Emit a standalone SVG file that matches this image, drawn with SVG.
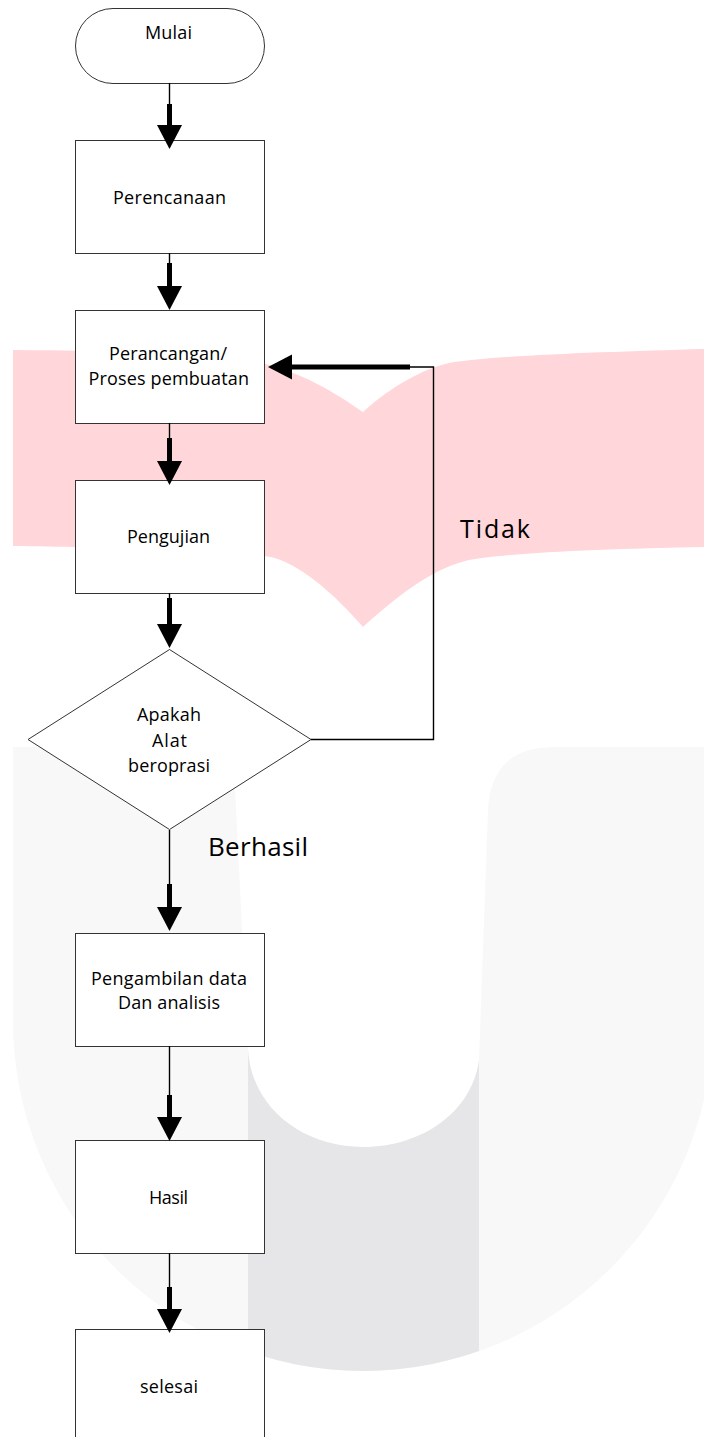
<svg xmlns="http://www.w3.org/2000/svg" width="704" height="1437" viewBox="0 0 704 1437">
<style>
.box{fill:#fff;stroke:#333;stroke-width:1}
.t{font-family:"Open Sans","Noto Sans","Liberation Sans",sans-serif;font-size:18px;fill:#000}
.lbl{font-family:"Open Sans","Noto Sans","Liberation Sans",sans-serif;font-size:25px;fill:#000}
.thin{fill:none;stroke:#000;stroke-width:1.4}
.thick{fill:none;stroke:#000;stroke-width:5;stroke-linecap:butt}
</style>
<defs>
<marker id="head" markerUnits="userSpaceOnUse" markerWidth="26" markerHeight="26" refX="0" refY="12.5" orient="auto" viewBox="0 0 26 25">
<path d="M0,0 L24,12.5 L0,25 Z" fill="#000"/>
</marker>
<clipPath id="uclip"><path d="M13,747 L13,1021 A350,350 0 0 0 713,1021 L713,747 Z"/></clipPath>
</defs>
<rect width="704" height="1437" fill="#fff"/>
<g id="watermark">
<path d="M13,350 C120,351 230,352 280,368 C320,382 345,400 363,412 C385,392 415,372 445,364 C480,356 600,352 704,349 L704,547 C600,549 500,553 465,561 C430,570 395,598 363,627 C335,595 305,568 275,558 C240,549 120,548 13,546 Z" fill="#ffd6da"/>
<path d="M13,747 L13,1021 A350,350 0 0 0 713,1021 L713,747 Z" fill="#f8f8f8"/>
<rect x="248" y="900" width="231" height="500" fill="#e6e6e8" clip-path="url(#uclip)"/>
<path d="M233,747 L248,1050 C252,1110 305,1147 363,1147 C422,1147 472,1112 479,1060 L488,810 C490,770 510,747 555,747 Z" fill="#fff"/>
</g>
<g id="n-mulai"><rect class="box" x="75.5" y="8.5" width="189" height="75" rx="37.5"/><text class="t" x="145" y="39" textLength="47" lengthAdjust="spacing">Mulai</text></g>
<g id="n-perencanaan"><rect class="box" x="75.5" y="140.5" width="189" height="113"/><text class="t" x="113" y="204" textLength="113" lengthAdjust="spacing">Perencanaan</text></g>
<g id="n-perancangan"><rect class="box" x="75.5" y="310.5" width="189" height="113"/><text class="t" x="109" y="360" textLength="118" lengthAdjust="spacing">Perancangan/</text><text class="t" x="88.5" y="385" textLength="160.5" lengthAdjust="spacing">Proses pembuatan</text></g>
<g id="n-pengujian"><rect class="box" x="75.5" y="480.5" width="189" height="113"/><text class="t" x="127" y="542.5" textLength="83" lengthAdjust="spacing">Pengujian</text></g>
<g id="n-decision"><polygon class="box" points="169.5,649.5 311,739.5 169.5,829.5 28,739.5"/><text class="t" x="137" y="721" textLength="64" lengthAdjust="spacing">Apakah</text><text class="t" x="152" y="746.5" textLength="35" lengthAdjust="spacing">Alat</text><text class="t" x="128" y="772" textLength="82" lengthAdjust="spacing">beroprasi</text></g>
<g id="n-pengambilan"><rect class="box" x="75.5" y="933.5" width="189" height="113"/><text class="t" x="91" y="984.5" textLength="156" lengthAdjust="spacing">Pengambilan data</text><text class="t" x="118" y="1009" textLength="102" lengthAdjust="spacing">Dan analisis</text></g>
<g id="n-hasil"><rect class="box" x="75.5" y="1140.5" width="189" height="113"/><text class="t" x="149" y="1204" textLength="39" lengthAdjust="spacing">Hasil</text></g>
<g id="n-selesai"><rect class="box" x="75.5" y="1329.5" width="189" height="113"/><text class="t" x="140" y="1393" textLength="58" lengthAdjust="spacing">selesai</text></g>
<g id="connectors">
<path class="thin" d="M169.5,83 V104"/><path class="thick" d="M169.5,104 V125" marker-end="url(#head)"/>
<path class="thin" d="M169.5,253 V264"/><path class="thick" d="M169.5,263 V286" marker-end="url(#head)"/>
<path class="thin" d="M169.5,423 V438"/><path class="thick" d="M169.5,438 V461" marker-end="url(#head)"/>
<path class="thin" d="M169.5,593 V598"/><path class="thick" d="M169.5,598 V624" marker-end="url(#head)"/>
<path class="thin" d="M169.5,830 V884"/><path class="thick" d="M169.5,884 V907" marker-end="url(#head)"/>
<path class="thin" d="M169.5,1046 V1095"/><path class="thick" d="M169.5,1095 V1117" marker-end="url(#head)"/>
<path class="thin" d="M169.5,1253 V1287"/><path class="thick" d="M169.5,1287 V1309" marker-end="url(#head)"/>
<path class="thin" d="M311,739.5 H433.5 V367 H408"/><path class="thick" d="M410,367 H292" marker-end="url(#head)"/>
</g>
<g id="labels">
<text class="lbl" x="460" y="538" textLength="70" lengthAdjust="spacing">Tidak</text>
<text class="lbl" x="208" y="856" textLength="100" lengthAdjust="spacing" style="font-size:26px">Berhasil</text>
</g>
</svg>
